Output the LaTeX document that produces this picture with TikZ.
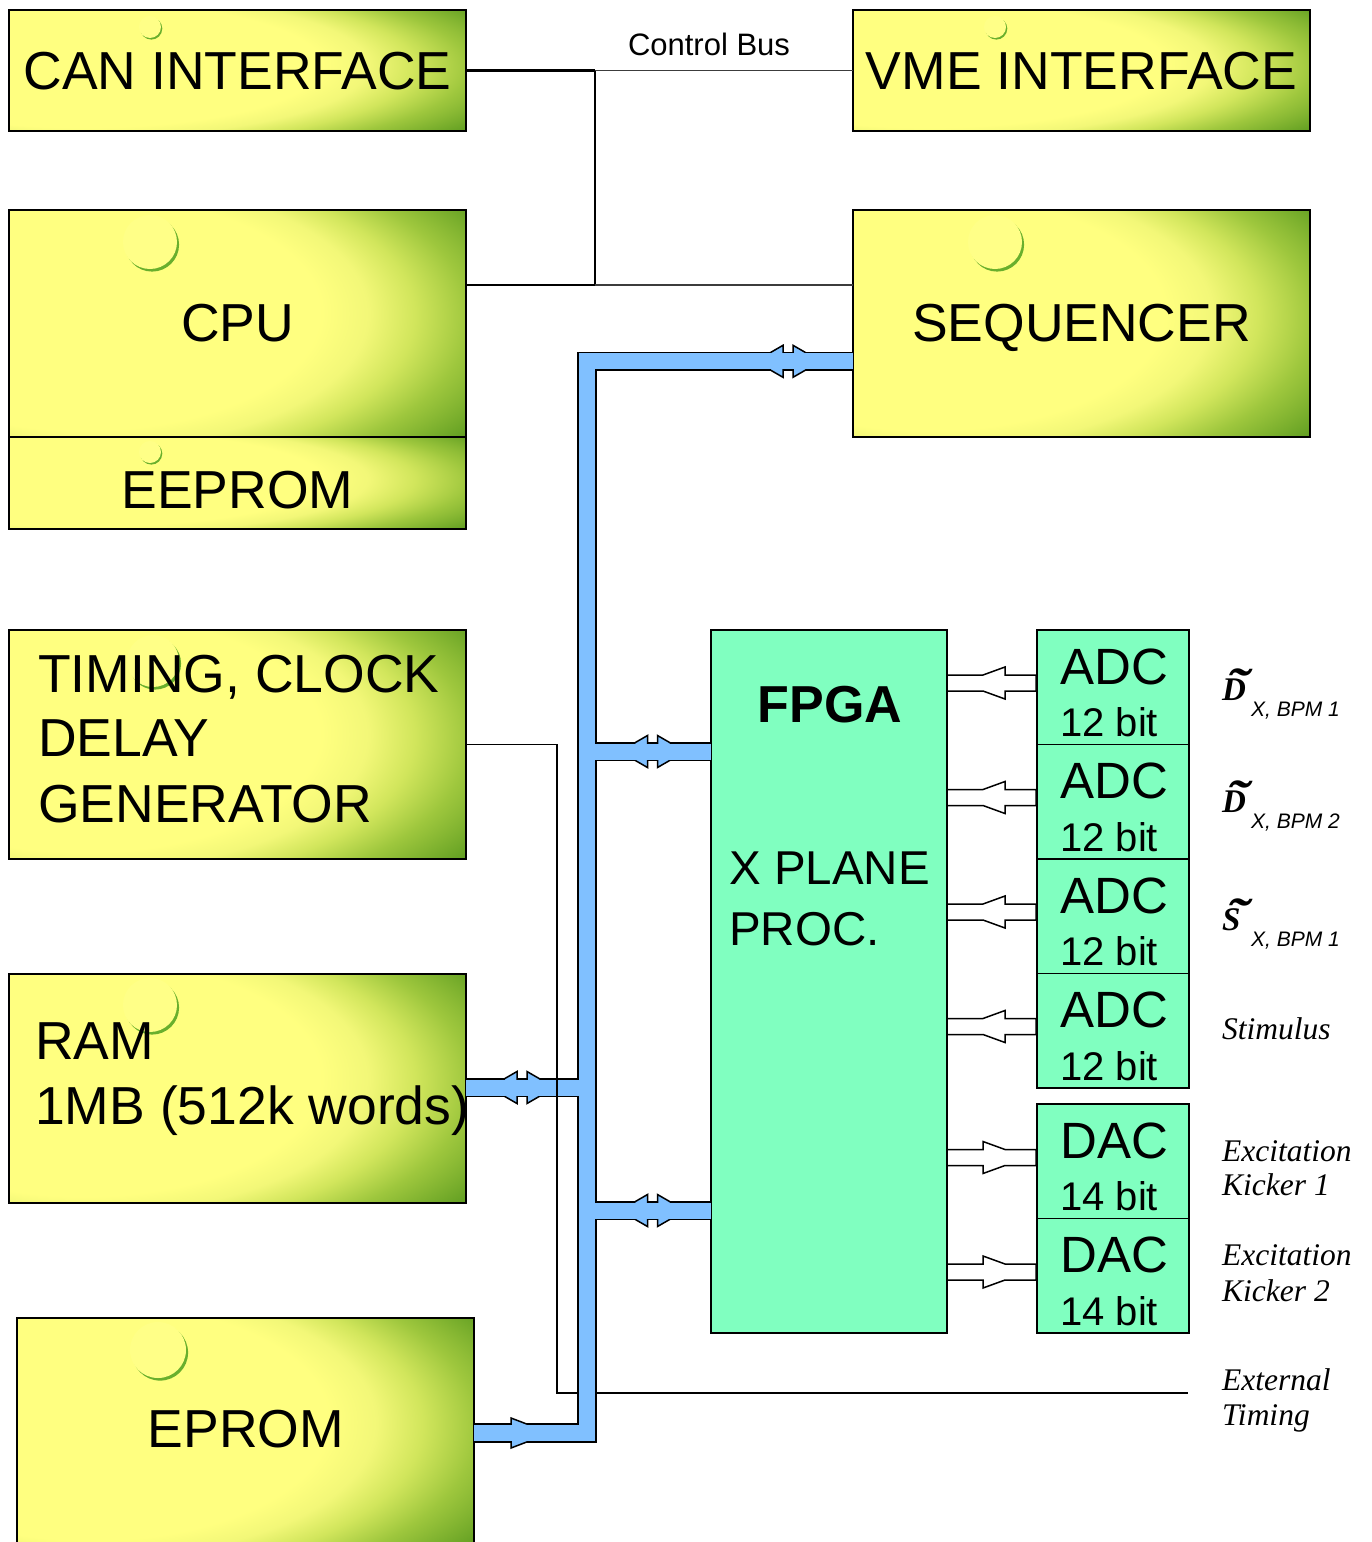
\documentclass[tikz,border=0pt]{standalone}
\usepackage{fontspec}
\setmainfont{Liberation Sans}
\newfontfamily\timesf{Liberation Serif}
\usetikzlibrary{calc}
\definecolor{busblue}{RGB}{128,192,255}
\definecolor{mint}{RGB}{128,255,192}
\definecolor{cresc}{RGB}{105,175,45}
\definecolor{hilite}{RGB}{255,255,135}
\definecolor{cbgray}{RGB}{60,60,60}
\pgfdeclareradialshading{ygshade}{\pgfqpoint{-35bp}{5bp}}{rgb(0bp)=(1,1,0.5); rgb(26bp)=(1,1,0.5); rgb(29bp)=(0.95,0.97,0.47); rgb(32bp)=(0.82,0.9,0.36); rgb(35.5bp)=(0.62,0.78,0.24); rgb(40.7bp)=(0.38,0.62,0.13); rgb(50bp)=(0.38,0.62,0.13)}
\tikzset{
  ybox/.style={draw=black, line width=1.5pt, shade, shading=ygshade, inner sep=0pt, outer sep=0pt, anchor=north west},
  gbox/.style={draw=black, line width=1.5pt, fill=mint, inner sep=0pt, outer sep=0pt, anchor=north west},
  bigtxt/.style={font=\fontsize{53.5}{63}\selectfont, inner sep=0pt, anchor=base},
  bigleft/.style={bigtxt, anchor=base west},
  fpgatxt/.style={font=\fontsize{52}{62}\selectfont\bfseries, inner sep=0pt, anchor=base},
  plantxt/.style={font=\fontsize{47.5}{56}\selectfont, inner sep=0pt, anchor=base west},
  adctxt/.style={font=\fontsize{51}{60}\selectfont, inner sep=0pt, anchor=base west},
  bittxt/.style={font=\fontsize{40}{48}\selectfont, inner sep=0pt, anchor=base west},
  cbtxt/.style={font=\fontsize{31}{37}\selectfont, inner sep=0pt, anchor=base},
  rlab/.style={font=\timesf\itshape\fontsize{31.5}{37}\selectfont, inner sep=0pt, anchor=base west},
  dsym/.style={font=\timesf\bfseries\itshape\fontsize{33}{40}\selectfont, inner sep=0pt, anchor=base west},
  subtxt/.style={font=\itshape\fontsize{21}{25}\selectfont, inner sep=0pt, anchor=base west},
  cbthick/.style={draw=black, line width=2.2pt},
  cbthin/.style={draw=cbgray, line width=1.8pt},
  tline/.style={draw=black, line width=1.3pt},
  busout/.style={draw=black, line width=19.5pt, line join=miter},
  busin/.style={draw=busblue, line width=16pt, line join=miter},
  arrowpoly/.style={fill=busblue, draw=black, line width=1.5pt, line join=miter},
  whitearrow/.style={fill=white, draw=black, line width=1.5pt, line join=miter},
  dblhead/.pic={
    \path[arrowpoly] (-18,-8.5) -- (-5,-16) -- (-5,16) -- (-18,8.5) -- cycle;
    \path[arrowpoly] (5,-16) -- (18,-8.5) -- (18,8.5) -- (5,16) -- cycle;
  },
  inarrow/.pic={
    \path[whitearrow] (0,-8) -- (36,-8) -- (58,-16) -- (58,-8) -- (89,-8) -- (89,8) -- (58,8) -- (58,16) -- (36,8) -- (0,8) -- cycle;
  },
  outarrow/.pic={
    \path[whitearrow] (0,-8) -- (36,-8) -- (36,-16) -- (58,-8) -- (89,-8) -- (89,8) -- (58,8) -- (36,16) -- (36,8) -- (0,8) -- cycle;
  }
}
\newcommand\tildeover[1]{\rlap{\kern4pt\raisebox{-2pt}{\scalebox{2}[1.5]{\char"02DC}}}#1}
\begin{document}
\begin{tikzpicture}[x=1pt,y=-1pt]
\useasboundingbox[fill=white] (0,0) rectangle (1371,1542);

% yellow boxes
\node[ybox, minimum width=457pt, minimum height=121pt] (can) at (9,10) {};
\node[ybox, minimum width=457pt, minimum height=121pt] (vme) at (853,10) {};
\node[ybox, minimum width=457pt, minimum height=227pt] (cpu) at (9,210) {};
\node[ybox, minimum width=457pt, minimum height=92pt] (eeprom) at (9,437) {};
\node[ybox, minimum width=457pt, minimum height=227pt] (seq) at (853,210) {};
\node[ybox, minimum width=457pt, minimum height=229pt] (timing) at (9,630) {};
\node[ybox, minimum width=457pt, minimum height=229pt] (ram) at (9,974) {};
\node[ybox, minimum width=457pt, minimum height=229pt] (eprom) at (17,1318) {};

% highlight circles
\foreach \cx/\cy/\r/\o in {150/27/11/1.6, 995/27/11/1.6, 150/242/27/2.6, 150/452/11/1.6, 995/242/27/2.6, 153/661/26/2.6, 150/1005/27/2.6, 158/1350/28/2.6}{
  \fill[cresc] ({\cx+0.8*\o},{\cy+\o}) circle[radius=\r pt];
  \fill[hilite] (\cx,\cy) circle[radius=\r pt];
}

% green boxes
\node[gbox, minimum width=236pt, minimum height=703pt] (fpga) at (711,630) {};
\node[gbox, minimum width=152pt, minimum height=114.5pt] (adc1) at (1037,630) {};
\node[gbox, minimum width=152pt, minimum height=114.5pt] (adc2) at (1037,744.5) {};
\node[gbox, minimum width=152pt, minimum height=114.5pt] (adc3) at (1037,859) {};
\node[gbox, minimum width=152pt, minimum height=114.5pt] (adc4) at (1037,973.5) {};
\node[gbox, minimum width=152pt, minimum height=114.5pt] (dac1) at (1037,1104) {};
\node[gbox, minimum width=152pt, minimum height=114.5pt] (dac2) at (1037,1218.5) {};

% control bus
\coordinate (cbA) at (595,70.5);
\coordinate (cbB) at (595,285);
\path[cbthick] (can.east) -- (cbA);
\path[cbthin] (cbA) -- (vme.west);
\path[cbthick] (cbA) -- (cbB);
\path[cbthick] (cpu.east |- cbB) -- (cbB);
\path[cbthin] (cbB) -- (seq.west |- cbB);
\node[cbtxt] (cblabel) at (709,55) {Control Bus};

% timing line
\coordinate (tA) at (557,744.5);
\coordinate (tB) at (557,1393);
\coordinate (tEnd) at (1188,1393);
\path[tline] (timing.east) -- (tA) -- (tB) -- (tEnd);

% data bus
\coordinate (bTop) at (587,361.3);
\coordinate (bBot) at (587,1433);
\coordinate (jF1) at (587,751.5);
\coordinate (jR) at (587,1087.5);
\coordinate (jF2) at (587,1210.5);
\path[busout] (seq.west |- bTop) -- (bTop) -- (bBot) -- (eprom.east |- bBot);
\path[busout] (jF1) -- (fpga.west |- jF1);
\path[busout] (jF2) -- (fpga.west |- jF2);
\path[busout] (jR) -- (ram.east |- jR);
\pic at (788,361.3) {dblhead};
\pic at (652.5,751.5) {dblhead};
\pic at (652.5,1210.5) {dblhead};
\pic at (522,1087.5) {dblhead};
\path[arrowpoly] (511,1418) -- (528,1424.5) -- (528,1441.5) -- (511,1448) -- cycle;
\path[busin] (seq.west |- bTop) -- (bTop) -- (bBot) -- (eprom.east |- bBot);
\path[busin] (jF1) -- (fpga.west |- jF1);
\path[busin] (jF2) -- (fpga.west |- jF2);
\path[busin] (jR) -- (ram.east |- jR);
\path[tline] (tA) -- (tB);

% ADC / DAC arrows
\pic at (947,683) {inarrow};
\pic at (947,797.5) {inarrow};
\pic at (947,912) {inarrow};
\pic at (947,1026.5) {inarrow};
\pic at (947,1157.5) {outarrow};
\pic at (947,1272) {outarrow};

% box texts
\node[bigtxt] (tcan) at (237.5,89) {CAN INTERFACE};
\node[bigtxt] (tvme) at (1081.5,89) {VME INTERFACE};
\node[bigtxt] (tcpu) at (237.5,341) {CPU};
\node[bigtxt] (teeprom) at (237.5,508) {EEPROM};
\node[bigtxt] (tseq) at (1081.5,341) {SEQUENCER};
\node[bigleft] (ttim1) at (38,692) {TIMING, CLOCK};
\node[bigleft] (ttim2) at (38,756) {DELAY};
\node[bigleft] (ttim3) at (38,822) {GENERATOR};
\node[bigleft] (tram1) at (35,1059) {RAM};
\node[bigleft] (tram2) at (35,1124) {1MB (512k words)};
\node[bigtxt] (teprom) at (246,1447) {EPROM};
\node[fpgatxt] (tfpga) at (830,722) {FPGA};
\node[plantxt] (tpl1) at (729,884) {X PLANE};
\node[plantxt] (tpl2) at (729,945) {PROC.};
\node[adctxt] (ta1) at (1060,684) {ADC};
\node[bittxt] (tb1) at (1060,736.5) {12 bit};
\node[adctxt] (ta2) at (1060,798.5) {ADC};
\node[bittxt] (tb2) at (1060,851) {12 bit};
\node[adctxt] (ta3) at (1060,913) {ADC};
\node[bittxt] (tb3) at (1060,965.5) {12 bit};
\node[adctxt] (ta4) at (1060,1027.5) {ADC};
\node[bittxt] (tb4) at (1060,1080) {12 bit};
\node[adctxt] (td1) at (1060,1158) {DAC};
\node[bittxt] (tdb1) at (1060,1210.5) {14 bit};
\node[adctxt] (td2) at (1060,1272.5) {DAC};
\node[bittxt] (tdb2) at (1060,1325) {14 bit};

% right labels
\node[dsym] (sd1) at (1222,700) {\tildeover{D}};
\node[subtxt] (sd1s) at (1251,716) {X, BPM 1};
\node[dsym] (sd2) at (1222,812) {\tildeover{D}};
\node[subtxt] (sd2s) at (1251,828) {X, BPM 2};
\node[dsym] (ss1) at (1222,930) {\tildeover{S}};
\node[subtxt] (ss1s) at (1251,946) {X, BPM 1};
\node[rlab] (lstim) at (1222,1039) {Stimulus};
\node[rlab] (lex1) at (1222,1161) {Excitation};
\node[rlab] (lk1) at (1222,1195) {Kicker 1};
\node[rlab] (lex2) at (1222,1265) {Excitation};
\node[rlab] (lk2) at (1222,1301) {Kicker 2};
\node[rlab] (lext) at (1222,1390) {External};
\node[rlab] (ltim) at (1222,1425) {Timing};
\end{tikzpicture}
\end{document}
